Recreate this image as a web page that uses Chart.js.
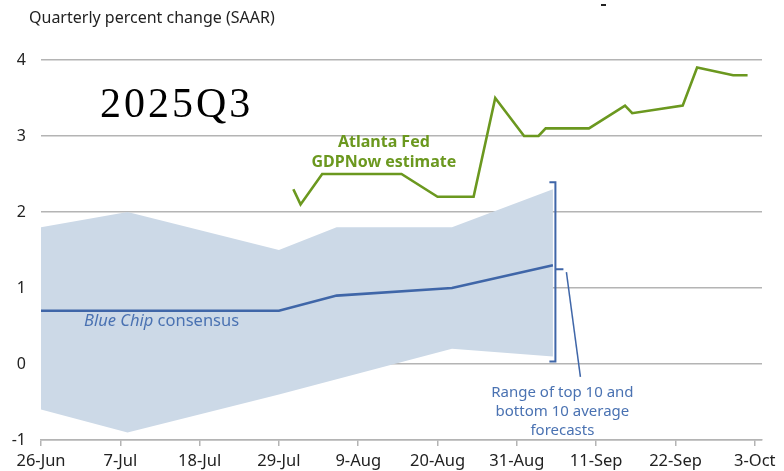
<!DOCTYPE html>
<html>
<head>
<meta charset="utf-8">
<script src="https://cdn.jsdelivr.net/npm/chart.js@4.4.1/dist/chart.umd.min.js"></script>
<style>
  html, body { margin: 0; padding: 0; background: #fff; }
  #wrap { width: 784px; height: 471px; position: relative; }
</style>
</head>
<body>
<div id="wrap"><canvas id="gdpChart"></canvas></div>
<script>
// 2025Q3 GDP forecasts: Atlanta Fed GDPNow vs Blue Chip consensus

const xTickLabels = ['26-Jun', '7-Jul', '18-Jul', '29-Jul', '9-Aug', '20-Aug', '31-Aug', '11-Sep', '22-Sep', '3-Oct'];
const yTicks = [-1, 0, 1, 2, 3, 4];

const blueChipDates = ['26-Jun', '8-Jul', '29-Jul', '6-Aug', '22-Aug', '5-Sep'];
const blueChipConsensus = [0.7, 0.7, 0.7, 0.9, 1.0, 1.3];
const top10Avg = [1.8, 2.0, 1.5, 1.8, 1.8, 2.3];
const bottom10Avg = [-0.6, -0.9, -0.4, -0.2, 0.2, 0.1];

const gdpNowDates = ['31-Jul', '1-Aug', '4-Aug', '15-Aug', '20-Aug', '25-Aug', '28-Aug', '1-Sep', '3-Sep',
  '4-Sep', '10-Sep', '15-Sep', '16-Sep', '23-Sep', '25-Sep', '30-Sep', '2-Oct'];
const gdpNow = [2.3, 2.1, 2.5, 2.5, 2.2, 2.2, 3.5, 3.0, 3.0, 3.1, 3.1, 3.4, 3.3, 3.4, 3.9, 3.8, 3.8];

const MONTHS = { Jun: 5, Jul: 6, Aug: 7, Sep: 8, Oct: 9 };
// days since 26-Jun
function dayNum(label) {
  const [d, m] = label.split('-');
  return (Date.UTC(2025, MONTHS[m], +d) - Date.UTC(2025, 5, 26)) / 86400000;
}
const pts = (dates, vals) => dates.map((d, i) => ({ x: dayNum(d), y: vals[i] }));

const GREEN = '#6b981f';
const BLUE = '#3f66a8';
const BLUE_TEXT = '#4a72b2';
const BAND = '#ccd9e7';
const GRID = '#b4b4b4';
const FONT = "'Noto Sans', sans-serif";

// text + bracket overlay
const annotations = {
  id: 'annotations',
  afterDatasetsDraw(chart) {
    const { ctx, scales: { x, y } } = chart;
    ctx.save();

    ctx.fillStyle = '#222';
    ctx.font = '16px ' + FONT;
    ctx.textBaseline = 'middle';
    ctx.textAlign = 'left';
    ctx.fillText('Quarterly percent change (SAAR)', 29, 18);
    ctx.fillRect(601, 4, 5, 2);

    ctx.fillStyle = '#000';
    ctx.font = "42px 'Liberation Serif', serif";
    ctx.letterSpacing = '3px';
    ctx.textBaseline = 'alphabetic';
    ctx.fillText('2025Q3', 100, 117);
    ctx.letterSpacing = '0px';

    // GDPNow label
    ctx.fillStyle = GREEN;
    ctx.font = 'bold 16px ' + FONT;
    ctx.textAlign = 'center';
    ctx.textBaseline = 'middle';
    const gx = x.getPixelForValue(dayNum('12-Aug')) + 4;
    ctx.fillText('Atlanta Fed', gx, y.getPixelForValue(2.91));
    ctx.fillText('GDPNow estimate', gx, y.getPixelForValue(2.65));

    // Blue Chip label
    ctx.fillStyle = BLUE_TEXT;
    ctx.textAlign = 'left';
    ctx.font = 'italic 16.5px ' + FONT;
    const bx = 84, by = y.getPixelForValue(0.56);
    ctx.fillText('Blue Chip', bx, by);
    const w = ctx.measureText('Blue Chip ').width;
    ctx.font = '16.5px ' + FONT;
    ctx.fillText('consensus', bx + w, by);

    // bracket around last range
    const last = blueChipDates.length - 1;
    const ex = x.getPixelForValue(dayNum(blueChipDates[last])) + 2.5;
    const yTop = y.getPixelForValue(top10Avg[last]) - 7;
    const yBot = y.getPixelForValue(bottom10Avg[last]) + 5;
    const yMid = y.getPixelForValue(blueChipConsensus[last]) + 4;
    ctx.strokeStyle = BLUE;
    ctx.lineWidth = 2;
    ctx.beginPath();
    ctx.moveTo(ex - 6, yTop); ctx.lineTo(ex, yTop); ctx.lineTo(ex, yBot); ctx.lineTo(ex - 6, yBot);
    ctx.moveTo(ex, yMid); ctx.lineTo(ex + 8, yMid);
    ctx.stroke();
    ctx.lineWidth = 1.5;
    ctx.beginPath();
    ctx.moveTo(ex + 11, yMid + 3);
    ctx.lineTo(ex + 25, y.getPixelForValue(-0.17));
    ctx.stroke();

    ctx.fillStyle = BLUE_TEXT;
    ctx.font = '15px ' + FONT;
    ctx.textAlign = 'center';
    const rx = ex + 7;
    ['Range of top 10 and', 'bottom 10 average', 'forecasts'].forEach((t, i) => {
      ctx.fillText(t, rx, y.getPixelForValue(-0.38) + i * 18.7);
    });

    ctx.restore();
  }
};

const ctx = document.getElementById('gdpChart').getContext('2d');

const gdpChart = new Chart(ctx, {
  type: 'line',
  data: {
    datasets: [
      {
        label: 'GDPNow',
        data: pts(gdpNowDates, gdpNow),
        borderColor: GREEN,
        borderWidth: 2.6,
        pointRadius: 0,
        tension: 0,
        fill: false
      },
      {
        label: 'Blue Chip consensus',
        data: pts(blueChipDates, blueChipConsensus),
        borderColor: BLUE,
        borderWidth: 2.6,
        pointRadius: 0,
        tension: 0,
        fill: false
      },
      {
        label: 'Top 10 average',
        data: pts(blueChipDates, top10Avg),
        borderWidth: 0,
        pointRadius: 0,
        backgroundColor: BAND,
        fill: '+1'
      },
      {
        label: 'Bottom 10 average',
        data: pts(blueChipDates, bottom10Avg),
        borderWidth: 0,
        pointRadius: 0,
        fill: false
      }
    ]
  },
  options: {
    responsive: true,
    maintainAspectRatio: false,
    animation: false,
    layout: { padding: { top: 60, right: 22, left: 0, bottom: 0 } },
    plugins: {
      legend: { display: false },
      tooltip: { enabled: false }
    },
    scales: {
      x: {
        type: 'linear',
        min: 0,
        max: 100,
        afterBuildTicks: (scale) => { scale.ticks = xTickLabels.map(l => ({ value: dayNum(l) })); },
        afterFit: (scale) => { scale.height = 31; },
        ticks: {
          callback: (v, i) => xTickLabels[i],
          color: '#222',
          font: { family: FONT, size: 16.5 },
          padding: 5,
          maxRotation: 0,
          autoSkip: false
        },
        grid: { drawOnChartArea: false, drawTicks: true, tickLength: 6, color: GRID, lineWidth: 1.5 },
        border: { display: true, color: GRID, width: 1.5 }
      },
      y: {
        min: -1,
        max: 4,
        afterBuildTicks: (scale) => { scale.ticks = yTicks.map(v => ({ value: v })); },
        afterFit: (scale) => { scale.width = 41; },
        ticks: {
          color: '#222',
          font: { family: FONT, size: 16 },
          padding: 15
        },
        grid: { color: GRID, lineWidth: 1.5, drawTicks: false },
        border: { display: false }
      }
    }
  },
  plugins: [annotations]
});
</script>
</body>
</html>
